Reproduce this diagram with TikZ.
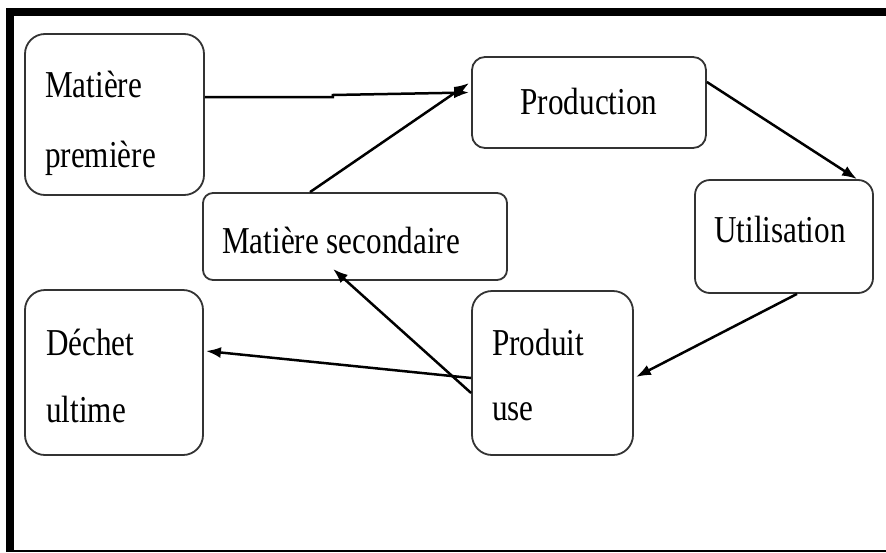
\documentclass[tikz,border=0pt]{standalone}
\usepackage{fontspec}
\setmainfont{Liberation Serif}[FakeStretch=0.82]
\usetikzlibrary{arrows.meta}
\begin{document}
\begin{tikzpicture}[x=1pt,y=-1pt,
  box/.style={draw=black!80, line width=1.8pt, rounded corners=#1, inner sep=0pt},
  box/.default=14pt,
  lbl/.style={anchor=base west, inner sep=0pt, font=\fontsize{38}{38}\selectfont},
  arr/.style={line width=2.5pt, -{Latex[length=15pt,width=11pt]}}]
\useasboundingbox (0,0) rectangle (886,552);
\fill[white] (0,0) rectangle (886,552);
% frame
\fill[black] (6,8) rectangle (886,16);
\fill[black] (6,8) rectangle (14,552);
\fill[black] (6,550) rectangle (886,552);
% boxes
\node[box=20pt, minimum width=179pt, minimum height=161pt] (mp) at (114.5,114.5) {};
\node[box=13pt, minimum width=234pt, minimum height=91pt] (prod) at (589,102.5) {};
\node[box=15pt, minimum width=178pt, minimum height=113pt] (util) at (784,236.5) {};
\node[box=10pt, minimum width=304pt, minimum height=87pt] (ms) at (355,236.5) {};
\node[box=20pt, minimum width=178pt, minimum height=165pt] (du) at (114,372.5) {};
\node[box=20pt, minimum width=161pt, minimum height=164pt] (pu) at (552.5,373) {};
% texts
\node[lbl] (t1) at (45,97) {Matière};
\node[lbl] (t2) at (45,167) {première};
\node[lbl, anchor=base] (t3) at (589,114) {Production};
\node[lbl] (t4) at (714,242) {Utilisation};
\node[lbl] (t5) at (222,253) {Matière secondaire};
\node[lbl] (t6) at (46,355) {Déchet};
\node[lbl] (t7) at (46,422) {ultime};
\node[lbl] (t8) at (492,355) {Produit};
\node[lbl] (t9) at (492,420) {use};
% connectors
\draw[arr] ([yshift=17.5pt]mp.east) -- ++(128,0) -- ++(0,-2) -- ([xshift=-2pt,yshift=10pt]prod.west);
\draw[arr] ([xshift=-45pt]ms.north) -- ([xshift=-2pt,yshift=19.5pt]prod.west);
\draw[arr] ([yshift=20.5pt]prod.east) -- ([xshift=73pt]util.north);
\draw[arr] ([xshift=13pt]util.south) -- ([xshift=2pt,yshift=-4pt]pu.east);
\draw[arr] ([yshift=-5pt]pu.west) -- ([xshift=2pt,yshift=21.5pt]du.east);
\draw[arr] ([yshift=-20pt]pu.west) -- ([xshift=-22pt,yshift=12pt]ms.south);
\end{tikzpicture}
\end{document}
